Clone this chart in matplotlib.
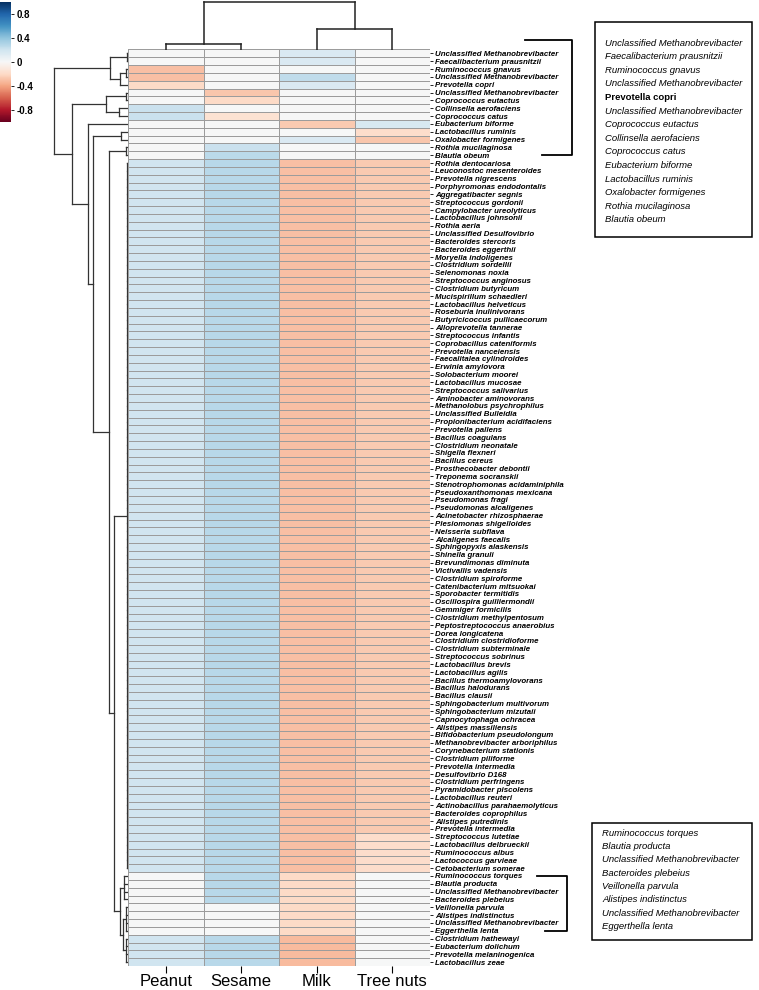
import numpy as np
import matplotlib
matplotlib.use("Agg")
import matplotlib.pyplot as plt
from matplotlib.patches import Rectangle

plt.rcParams['font.family'] = ['Liberation Sans', 'DejaVu Sans']

W, H = 759, 990

foods = ["Peanut", "Sesame", "Milk", "Tree nuts"]

species = [
    "Unclassified Methanobrevibacter", "Faecalibacterium prausnitzii", "Ruminococcus gnavus",
    "Unclassified Methanobrevibacter", "Prevotella copri", "Unclassified Methanobrevibacter",
    "Coprococcus eutactus", "Collinsella aerofaciens", "Coprococcus catus", "Eubacterium biforme",
    "Lactobacillus ruminis", "Oxalobacter formigenes", "Rothia mucilaginosa", "Blautia obeum",
    "Rothia dentocariosa", "Leuconostoc mesenteroides", "Prevotella nigrescens",
    "Porphyromonas endodontalis", "Aggregatibacter segnis", "Streptococcus gordonii",
    "Campylobacter ureolyticus", "Lactobacillus johnsonii", "Rothia aeria",
    "Unclassified Desulfovibrio", "Bacteroides stercoris", "Bacteroides eggerthii",
    "Moryella indoligenes", "Clostridium sordellii", "Selenomonas noxia",
    "Streptococcus anginosus", "Clostridium butyricum", "Mucispirillum schaedleri",
    "Lactobacillus helveticus", "Roseburia inulinivorans", "Butyricicoccus pullicaecorum",
    "Alloprevotella tannerae", "Streptococcus infantis", "Coprobacillus cateniformis",
    "Prevotella nanceiensis", "Faecalitalea cylindroides", "Erwinia amylovora",
    "Solobacterium moorei", "Lactobacillus mucosae", "Streptococcus salivarius",
    "Aminobacter aminovorans", "Methanolobus psychrophilus", "Unclassified Bulleidia",
    "Propionibacterium acidifaciens", "Prevotella pallens", "Bacillus coagulans",
    "Clostridium neonatale", "Shigella flexneri", "Bacillus cereus",
    "Prosthecobacter debontii", "Treponema socranskii", "Stenotrophomonas acidaminiphila",
    "Pseudoxanthomonas mexicana", "Pseudomonas fragi", "Pseudomonas alcaligenes",
    "Acinetobacter rhizosphaerae", "Plesiomonas shigelloides", "Neisseria subflava",
    "Alcaligenes faecalis", "Sphingopyxis alaskensis", "Shinella granuli",
    "Brevundimonas diminuta", "Victivallis vadensis", "Clostridium spiroforme",
    "Catenibacterium mitsuokai", "Sporobacter termitidis", "Oscillospira guilliermondii",
    "Gemmiger formicilis", "Clostridium methylpentosum", "Peptostreptococcus anaerobius",
    "Dorea longicatena", "Clostridium clostridioforme", "Clostridium subterminale",
    "Streptococcus sobrinus", "Lactobacillus brevis", "Lactobacillus agilis",
    "Bacillus thermoamylovorans", "Bacillus halodurans", "Bacillus clausii",
    "Sphingobacterium multivorum", "Sphingobacterium mizutaii", "Capnocytophaga ochracea",
    "Alistipes massiliensis", "Bifidobacterium pseudolongum", "Methanobrevibacter arboriphilus",
    "Corynebacterium stationis", "Clostridium piliforme", "Prevotella intermedia",
    "Desulfovibrio D168", "Clostridium perfringens", "Pyramidobacter piscolens",
    "Lactobacillus reuteri", "Actinobacillus parahaemolyticus", "Bacteroides coprophilus",
    "Alistipes putredinis", "Prevotella intermedia", "Streptococcus lutetiae",
    "Lactobacillus delbrueckii", "Ruminococcus albus", "Lactococcus garvieae",
    "Cetobacterium somerae", "Ruminococcus torques", "Blautia producta",
    "Unclassified Methanobrevibacter", "Bacteroides plebeius", "Veillonella parvula",
    "Alistipes indistinctus", "Unclassified Methanobrevibacter", "Eggerthella lenta",
    "Clostridium hathewayi", "Eubacterium dolichum", "Prevotella melaninogenica",
    "Lactobacillus zeae",
]

# correlation values (rows top to bottom)
peanut = [
    0, 0, -0.3, -0.3, -0.2, 0, 0, 0.22, 0.22, 0, 0, 0, 0, 0,
    0.2, 0.2, 0.2, 0.2, 0.2, 0.2, 0.2, 0.2, 0.2, 0.2, 0.2, 0.2, 0.2,
    0.2, 0.2, 0.2, 0.2, 0.2, 0.2, 0.2, 0.2, 0.2, 0.2, 0.2, 0.2, 0.2,
    0.2, 0.2, 0.2, 0.2, 0.2, 0.2, 0.2, 0.2, 0.2, 0.2, 0.2, 0.2, 0.2,
    0.2, 0.2, 0.2, 0.2, 0.2, 0.2, 0.2, 0.2, 0.2, 0.2, 0.2, 0.2, 0.2,
    0.2, 0.2, 0.2, 0.2, 0.2, 0.2, 0.2, 0.2, 0.2, 0.2, 0.2, 0.2, 0.2,
    0.2, 0.2, 0.2, 0.2, 0.2, 0.2, 0.2, 0.2, 0.2, 0.2, 0.2, 0.2, 0.2,
    0.2, 0.2, 0.2, 0.2, 0.2, 0.2, 0.2, 0.2, 0.2, 0.2, 0.2, 0.2, 0.2,
    0, 0, 0, 0, 0, 0, 0, 0, 0.2, 0.2, 0.2, 0.2,
]
sesame = [
    0, 0, 0, 0, 0, -0.28, -0.2, 0, -0.15, 0, 0, 0, 0.22, 0.27,
    0.28, 0.28, 0.28, 0.28, 0.28, 0.28, 0.28, 0.28, 0.28, 0.28, 0.28, 0.28, 0.28,
    0.28, 0.28, 0.28, 0.28, 0.28, 0.28, 0.28, 0.28, 0.28, 0.28, 0.28, 0.28, 0.28,
    0.28, 0.28, 0.28, 0.28, 0.28, 0.28, 0.28, 0.28, 0.28, 0.28, 0.28, 0.28, 0.28,
    0.28, 0.28, 0.28, 0.28, 0.28, 0.28, 0.28, 0.28, 0.28, 0.28, 0.28, 0.28, 0.28,
    0.28, 0.28, 0.28, 0.28, 0.28, 0.28, 0.28, 0.28, 0.28, 0.28, 0.28, 0.28, 0.28,
    0.28, 0.28, 0.28, 0.28, 0.28, 0.28, 0.28, 0.28, 0.28, 0.28, 0.28, 0.28, 0.28,
    0.28, 0.28, 0.28, 0.28, 0.28, 0.28, 0.28, 0.28, 0.28, 0.28, 0.28, 0.28, 0.28,
    0.28, 0.28, 0.28, 0.28, 0, 0, 0, 0, 0.28, 0.28, 0.28, 0.28,
]
milk = [
    0.15, 0.15, 0, 0.25, 0.15, 0, 0, 0, 0, -0.26, 0, 0.15, 0, 0,
    -0.3, -0.3, -0.3, -0.3, -0.3, -0.3, -0.3, -0.3, -0.3, -0.3, -0.3, -0.3, -0.3,
    -0.3, -0.3, -0.3, -0.3, -0.3, -0.3, -0.3, -0.3, -0.3, -0.3, -0.3, -0.3, -0.3,
    -0.3, -0.3, -0.3, -0.3, -0.3, -0.3, -0.3, -0.3, -0.3, -0.3, -0.3, -0.3, -0.3,
    -0.3, -0.3, -0.3, -0.3, -0.3, -0.3, -0.3, -0.3, -0.3, -0.3, -0.3, -0.3, -0.3,
    -0.3, -0.3, -0.3, -0.3, -0.3, -0.3, -0.3, -0.3, -0.3, -0.3, -0.3, -0.3, -0.3,
    -0.3, -0.3, -0.3, -0.3, -0.3, -0.3, -0.3, -0.3, -0.3, -0.3, -0.3, -0.3, -0.3,
    -0.3, -0.3, -0.3, -0.3, -0.3, -0.3, -0.3, -0.3, -0.3, -0.3, -0.3, -0.3, -0.3,
    -0.2, -0.2, -0.2, -0.2, -0.2, -0.2, -0.2, -0.2, -0.32, -0.32, -0.32, -0.32,
]
tree_nuts = [
    0, 0, 0, 0, 0, 0, 0, 0, 0, 0.16, -0.18, -0.28, 0, 0,
    -0.26, -0.26, -0.26, -0.26, -0.26, -0.26, -0.26, -0.26, -0.26, -0.26, -0.26, -0.26, -0.26,
    -0.26, -0.26, -0.26, -0.26, -0.26, -0.26, -0.26, -0.26, -0.26, -0.26, -0.26, -0.26, -0.26,
    -0.26, -0.26, -0.26, -0.26, -0.26, -0.26, -0.26, -0.26, -0.26, -0.26, -0.26, -0.26, -0.26,
    -0.26, -0.26, -0.26, -0.26, -0.26, -0.26, -0.26, -0.26, -0.26, -0.26, -0.26, -0.26, -0.26,
    -0.26, -0.26, -0.26, -0.26, -0.26, -0.26, -0.26, -0.26, -0.26, -0.26, -0.26, -0.26, -0.26,
    -0.26, -0.26, -0.26, -0.26, -0.26, -0.26, -0.26, -0.26, -0.26, -0.26, -0.26, -0.26, -0.26,
    -0.26, -0.26, -0.26, -0.26, -0.26, -0.26, -0.26, -0.26, -0.18, -0.18, -0.18, -0.18, -0.18,
    0, 0, 0, 0, 0, 0, 0, 0, 0, 0, 0, 0,
]

# dendrograms: [merge height, [children]], leaves are row / column indices
row_tree = [1.0, [
    [0.243, [[0.02, [0, 1]], [0.11, [[0.03, [2, 3]], 4]]]],
    [0.757, [
        [0.30, [[0.03, [5, 6]], [0.12, [7, 8]]]],
        [0.54, [
            9,
            [0.47, [
                [0.10, [10, 11]],
                [0.257, [
                    [0.03, [12, 13]],
                    [0.19, [
                        [0.015, list(range(14, 105))],
                        [0.108, [[0.05, [105, 106, 107, 108]],
                                 [0.07, [[0.03, [109, 110, 111, 112]],
                                         [0.03, [113, 114, 115, 116]]]]]],
                    ]],
                ]],
            ]],
        ]],
    ]],
]]
col_tree = [1.0, [[0.11, [0, 1]], [0.43, [2, 3]]]]

box1 = ["Unclassified Methanobrevibacter", "Faecalibacterium prausnitzii", "Ruminococcus gnavus",
        "Unclassified Methanobrevibacter", "Prevotella copri", "Unclassified Methanobrevibacter",
        "Coprococcus eutactus", "Collinsella aerofaciens", "Coprococcus catus",
        "Eubacterium biforme", "Lactobacillus ruminis", "Oxalobacter formigenes",
        "Rothia mucilaginosa", "Blautia obeum"]
box2 = ["Ruminococcus torques", "Blautia producta", "Unclassified Methanobrevibacter",
        "Bacteroides plebeius", "Veillonella parvula", "Alistipes indistinctus",
        "Unclassified Methanobrevibacter", "Eggerthella lenta"]


def px_axes(x0, y0, x1, y1):
    return fig.add_axes([x0 / W, 1 - y1 / H, (x1 - x0) / W, (y1 - y0) / H])


def draw_tree(ax, node, vertical, color, lw):
    # returns (position of node along leaves, height)
    if not isinstance(node, list):
        return node + 0.5, 0.0
    h, kids = node
    pts = [draw_tree(ax, k, vertical, color, lw) for k in kids]
    for p, ch in pts:
        if vertical:
            ax.plot([p, p], [ch, h], color=color, lw=lw)
        else:
            ax.plot([ch, h], [p, p], color=color, lw=lw)
    lo, hi = pts[0][0], pts[-1][0]
    if vertical:
        ax.plot([lo, hi], [h, h], color=color, lw=lw)
    else:
        ax.plot([h, h], [lo, hi], color=color, lw=lw)
    return (lo + hi) / 2, h


fig = plt.figure(figsize=(W / 100, H / 100), dpi=100)
n = len(species)
mat = np.column_stack([peanut, sesame, milk, tree_nuts])

HM_TOP, HM_BOT = 49.5, 966

# heatmap
ax = px_axes(128, HM_TOP, 430, HM_BOT)
mesh = ax.pcolormesh(mat, cmap="RdBu", vmin=-1, vmax=1, edgecolors="#9c9c9c", linewidth=0.5)
ax.set_xlim(0, 4)
ax.set_ylim(n, 0)
for s in ax.spines.values():
    s.set_visible(False)
ax.yaxis.tick_right()
ax.set_yticks(np.arange(n) + 0.5)
ax.set_yticklabels(species, fontsize=5.7, style="italic", fontweight="bold")
ax.set_xticks(np.arange(4) + 0.5)
ax.set_xticklabels(foods, fontsize=12)
ax.tick_params(axis="y", length=2.5, width=0.6, pad=1)
ax.tick_params(axis="x", length=5, width=0.8, pad=1)

# row dendrogram
axr = px_axes(0, HM_TOP, 128, HM_BOT)
draw_tree(axr, row_tree, False, "#333333", 0.9)
axr.set_xlim(128 / 74, 0)
axr.set_ylim(n, 0)
axr.axis("off")

# column dendrogram
axc = px_axes(128, 0, 430, HM_TOP)
draw_tree(axc, col_tree, True, "#222222", 1.1)
axc.set_xlim(0, 4)
axc.set_ylim(0, HM_TOP / (HM_TOP - 2))
axc.axis("off")

# colorbar
axcb = px_axes(0, 2, 11, 122)
cb = fig.colorbar(mesh, cax=axcb, ticks=[0.8, 0.4, 0, -0.4, -0.8])
cb.ax.set_yticklabels(["0.8", "0.4", "0", "-0.4", "-0.8"], fontsize=7, fontweight="bold")
cb.ax.tick_params(length=2, width=0.6, pad=2)
cb.outline.set_visible(False)

# brackets next to the row labels
tr = ax.get_yaxis_transform()
def bracket(r1, xv, xtop, xbot, ytop):
    ax.plot([xtop, xv, xv, xbot], [ytop, ytop, r1 + 0.5, r1 + 0.5], color="black",
            lw=1.3, transform=tr, clip_on=False)

bracket(13, (572 - 128) / 302, (525 - 128) / 302, (542 - 128) / 302, -1.2)
bracket(112, (567 - 128) / 302, (537 - 128) / 302, (545 - 128) / 302, 105.5)

# boxes with the cluster members
def member_box(x0, y0, x1, y1, names, ty, step):
    fig.patches.append(Rectangle((x0 / W, 1 - y1 / H), (x1 - x0) / W, (y1 - y0) / H,
                                 transform=fig.transFigure, fill=False, ec="black", lw=1.1))
    for i, name in enumerate(names):
        bold = name == "Prevotella copri"
        fig.text((x0 + 10) / W, 1 - (ty + i * step) / H, name, fontsize=6.8,
                 style="normal" if bold else "italic",
                 fontweight="bold" if bold else "normal", va="center", ha="left")

member_box(595, 22, 752, 237, box1, 43, 13.6)
member_box(592, 823, 752, 940, box2, 833, 13.4)

fig.savefig("out.png", dpi=100)
